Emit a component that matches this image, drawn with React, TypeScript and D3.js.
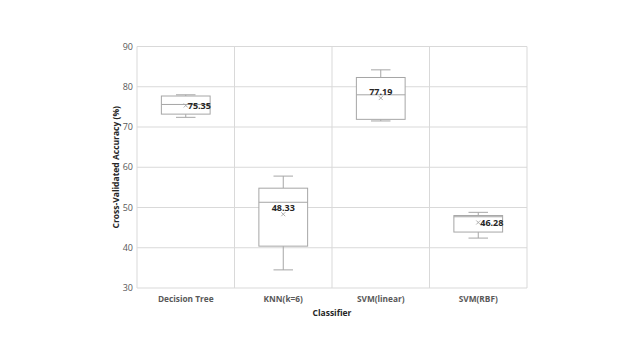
import React from "react";
import * as d3 from "d3";

const categories = ["Decision Tree", "KNN(k=6)", "SVM(linear)", "SVM(RBF)"];
const whiskerLow = [72.4, 34.5, 71.5, 42.4];
const q1 = [73.2, 40.4, 71.9, 43.9];
const median = [75.6, 51.3, 78.0, 47.7];
const q3 = [77.7, 54.8, 82.3, 48.0];
const whiskerHigh = [78.0, 57.8, 84.2, 48.8];
const means = [75.35, 48.33, 77.19, 46.28];
// where each mean label sits relative to its marker
const labelPos = ["right", "above", "above", "right"];
const yTicks = [30, 40, 50, 60, 70, 80, 90];

const W = 639;
const H = 359;
const plot = { left: 137, right: 527, top: 46.5, bottom: 288 };
const FONT = "'Open Sans', 'Noto Sans', sans-serif";

export default function App() {
  const x = d3
    .scaleBand<string>()
    .domain(categories)
    .range([plot.left, plot.right])
    .paddingInner(0)
    .paddingOuter(0);
  const y = d3.scaleLinear().domain([30, 90]).range([plot.bottom, plot.top]);
  const bw = x.bandwidth();
  const boxW = bw * 0.5;
  const capW = boxW * 0.4;
  const stroke = "#a6a6a6";

  return (
    <svg
      width={W}
      height={H}
      style={{ position: "absolute", left: 0, top: 0, background: "#fff" }}
      fontFamily={FONT}
    >
      <rect x={0} y={0} width={W} height={H} fill="#fff" />
      {/* horizontal gridlines */}
      {yTicks.map((t) => (
        <line
          key={"h" + t}
          x1={plot.left}
          x2={plot.right}
          y1={y(t)}
          y2={y(t)}
          stroke="#d9d9d9"
          strokeWidth={1}
        />
      ))}
      {/* vertical category separators */}
      {categories.map((c) => (
        <line
          key={"v" + c}
          x1={x(c) as number}
          x2={x(c) as number}
          y1={plot.top}
          y2={plot.bottom}
          stroke="#d9d9d9"
          strokeWidth={1}
        />
      ))}
      <line
        x1={plot.right}
        x2={plot.right}
        y1={plot.top}
        y2={plot.bottom}
        stroke="#d9d9d9"
      />
      {/* y tick labels */}
      {yTicks.map((t) => (
        <text
          key={"t" + t}
          x={plot.left - 4}
          y={y(t)}
          dy="0.35em"
          textAnchor="end"
          fontSize={9}
          fill="#595959"
        >
          {t}
        </text>
      ))}
      {/* category labels */}
      {categories.map((c) => (
        <text
          key={"c" + c}
          x={(x(c) as number) + bw / 2}
          y={plot.bottom + 14}
          textAnchor="middle"
          fontSize={8.3}
          fontWeight="bold"
          fill="#595959"
        >
          {c}
        </text>
      ))}
      {/* axis titles */}
      <text
        x={(plot.left + plot.right) / 2}
        y={plot.bottom + 28}
        textAnchor="middle"
        fontSize={8.5}
        fontWeight="bold"
        fill="#262626"
      >
        Classifier
      </text>
      <text
        transform={`translate(119,${(plot.top + plot.bottom) / 2}) rotate(-90)`}
        textAnchor="middle"
        fontSize={8.5}
        fontWeight="bold"
        fill="#262626"
      >
        Cross-Validated Accuracy (%)
      </text>
      {/* boxes */}
      {categories.map((c, i) => {
        const cx = (x(c) as number) + bw / 2;
        const my = y(means[i]);
        const pos = labelPos[i];
        return (
          <g key={"b" + c}>
            <line x1={cx} x2={cx} y1={y(whiskerHigh[i])} y2={y(q3[i])} stroke={stroke} />
            <line x1={cx} x2={cx} y1={y(q1[i])} y2={y(whiskerLow[i])} stroke={stroke} />
            <line
              x1={cx - capW / 2}
              x2={cx + capW / 2}
              y1={y(whiskerHigh[i])}
              y2={y(whiskerHigh[i])}
              stroke={stroke}
            />
            <line
              x1={cx - capW / 2}
              x2={cx + capW / 2}
              y1={y(whiskerLow[i])}
              y2={y(whiskerLow[i])}
              stroke={stroke}
            />
            <rect
              x={cx - boxW / 2}
              y={y(q3[i])}
              width={boxW}
              height={y(q1[i]) - y(q3[i])}
              fill="#fff"
              stroke={stroke}
            />
            <line
              x1={cx - boxW / 2}
              x2={cx + boxW / 2}
              y1={y(median[i])}
              y2={y(median[i])}
              stroke={stroke}
            />
            {/* mean marker */}
            <path
              d={`M${cx - 2},${my - 2}L${cx + 2},${my + 2}M${cx - 2},${my + 2}L${cx + 2},${my - 2}`}
              stroke="#a6a6a6"
              strokeWidth={0.9}
            />
            <text
              x={pos === "right" ? cx + 2 : cx}
              y={pos === "right" ? my : my - 6}
              dy="0.35em"
              textAnchor={pos === "right" ? "start" : "middle"}
              fontSize={9}
              fontWeight="bold"
              fill="#262626"
            >
              {means[i].toFixed(2)}
            </text>
          </g>
        );
      })}
    </svg>
  );
}
